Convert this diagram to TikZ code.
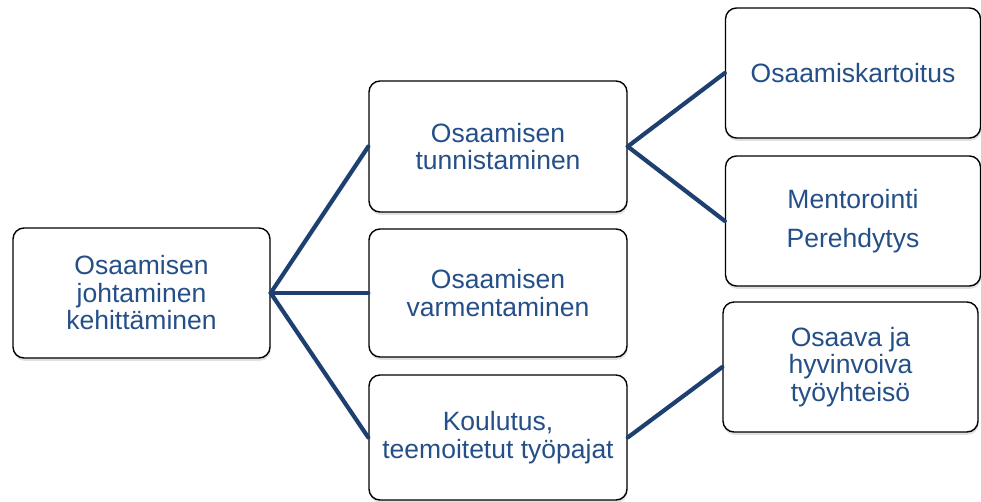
\documentclass[tikz,border=0pt]{standalone}
\usepackage{fontspec}
\setmainfont{Liberation Sans}
\usetikzlibrary{shadows}
\definecolor{labelblue}{RGB}{36,79,136}
\definecolor{linkblue}{RGB}{30,64,112}
\begin{document}
\begin{tikzpicture}[x=1pt,y=-1pt,
  box/.style={draw=black, line width=1.4pt, fill=white, rounded corners=11pt,
    inner sep=0pt, align=center, text=labelblue,
    font=\fontsize{26.5}{27.5}\selectfont,
    drop shadow={shadow xshift=0.6pt, shadow yshift=-2.8pt, opacity=0.2, fill=black!60}},
  midbox/.style={box, minimum width=258pt},
  sidebox/.style={box, minimum width=255pt, minimum height=130pt},
  link/.style={draw=linkblue, line width=4.2pt, line cap=round}]
\useasboundingbox (0,0) rectangle (981,501);

% root of the tree
\node[box, minimum width=257pt, minimum height=130pt] (root) at (141.5,293)
  {Osaamisen\\johtaminen\\kehittäminen};

% middle column
\node[midbox, minimum height=131pt] (tunn) at (498,146.5)
  {Osaamisen\\tunnistaminen};
\node[midbox, minimum height=128pt] (varm) at (498,293)
  {Osaamisen\\varmentaminen};
\node[midbox, minimum height=125pt] (koul) at (498,437.5)
  {Koulutus,\\teemoitetut työpajat};

% right column
\node[sidebox] (kart) at (853,73) {Osaamiskartoitus};
\node[sidebox] (ment) at (853,221) {Mentorointi\\[12pt]Perehdytys};
\node[sidebox] (tyoy) at (850.5,367) {Osaava ja\\hyvinvoiva\\työyhteisö};

% connectors
\draw[link] (root.east) -- (tunn.west);
\draw[link] (root.east) -- (varm.west);
\draw[link] (root.east) -- (koul.west);
\draw[link] (tunn.east) -- (kart.west);
\draw[link] (tunn.east) -- (ment.west);
\draw[link] (koul.east) -- (tyoy.west);
\end{tikzpicture}
\end{document}
